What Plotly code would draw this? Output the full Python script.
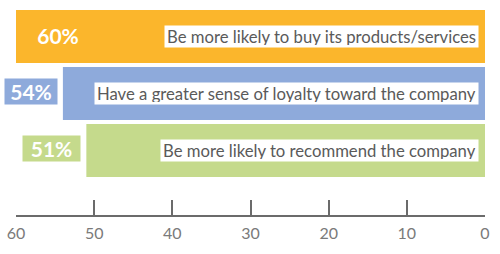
import plotly.graph_objects as go

# Survey results: share of respondents (%) for each statement
statements = [
    "Be more likely to buy its products/services",
    "Have a greater sense of loyalty toward the company",
    "Be more likely to recommend the company",
]
percents = [60, 54, 51]
bar_colors = ["#FBB62C", "#8EAADB", "#C5DA8C"]
tick_values = [60, 50, 40, 30, 20, 10, 0]

positions = list(range(len(statements)))

fig = go.Figure()
fig.add_trace(go.Bar(
    x=percents,
    y=positions,
    orientation="h",
    marker=dict(color=bar_colors, line=dict(width=0)),
    width=0.93,
    hoverinfo="skip",
))

annotations = []
for i, (txt, val, col) in enumerate(zip(statements, percents, bar_colors)):
    # statement label in a white box at the right end of each bar
    annotations.append(dict(
        x=0, y=i, xref="x", yref="y",
        text=txt, showarrow=False,
        xanchor="right", yanchor="middle", xshift=-6,
        bgcolor="white", borderpad=2, height=17,
        font=dict(family="Lato", size=16.7, color="#5a5a5a"),
    ))
    # percentage tag next to (or inside) each bar
    if i == 0:
        annotations.append(dict(
            x=val, y=i, xref="x", yref="y",
            text=f"<b>{val}%</b>", showarrow=False,
            xanchor="left", yanchor="middle", xshift=16, yshift=1,
            width=50, height=25, borderpad=0,
            font=dict(family="Lato", size=21, color="white"),
        ))
    else:
        annotations.append(dict(
            x=val, y=i, xref="x", yref="y",
            text=f"<b>{val}%</b>", showarrow=False,
            xanchor="right", yanchor="middle", xshift=-5, yshift=2,
            width=52 if i == 1 else 57, height=25, borderpad=0,
            bgcolor=col,
            font=dict(family="Lato", size=21, color="white"),
        ))

fig.update_layout(
    width=500, height=254,
    margin=dict(l=16, r=15, t=0, b=39),
    paper_bgcolor="white", plot_bgcolor="white",
    showlegend=False,
    annotations=annotations,
    xaxis=dict(
        range=[60, 0], autorange=False,
        tickvals=tick_values, ticktext=[str(v) for v in tick_values],
        showgrid=False, zeroline=False,
        showline=True, linecolor="#6b6b6b", linewidth=2,
        ticks="inside", ticklen=15, tickwidth=2, tickcolor="#6b6b6b",
        tickfont=dict(family="Lato", size=16, color="#7a7a7a"),
        ticklabelstandoff=3,
        fixedrange=True,
    ),
    yaxis=dict(
        range=[3.132, -0.640], autorange=False,
        visible=False, showgrid=False, zeroline=False,
        fixedrange=True,
    ),
)

fig.write_html("out.html")
